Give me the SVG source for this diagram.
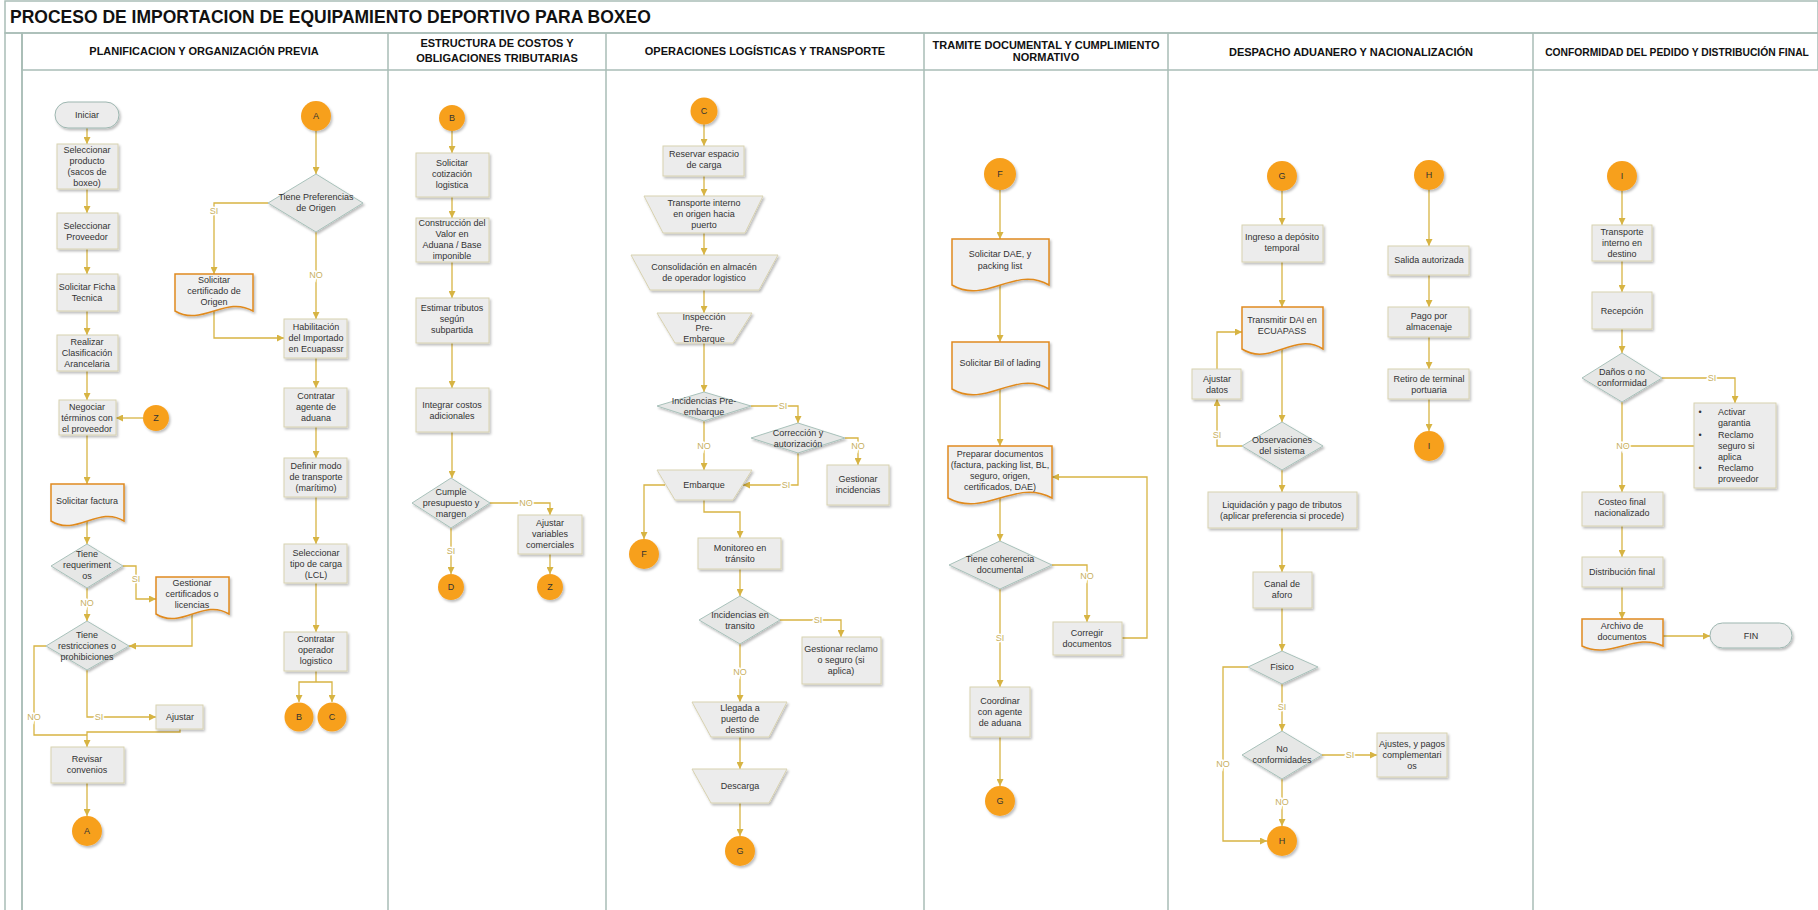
<svg xmlns="http://www.w3.org/2000/svg" width="1818" height="910" viewBox="0 0 1818 910">
<defs>
<style>
.p{fill:#ececec;stroke:#d8d2b0;stroke-width:1;filter:url(#sh)}
.d{fill:#f0f0f0;stroke:#e08a1f;stroke-width:1.5;filter:url(#sh)}
.dm{fill:#e6e7e6;stroke:#a8c1ba;stroke-width:1;filter:url(#sh)}
.c{fill:#f7a01f;filter:url(#sh)}
.t{fill:#ececec;stroke:#9db6b0;stroke-width:1;filter:url(#sh)}
text{font-family:"Liberation Sans",Arial,sans-serif;font-size:9px;fill:#333;text-anchor:middle}
.lb{fill:#c8b063;stroke:#fff;stroke-width:3;paint-order:stroke}
.hd{font-weight:bold;font-size:11px;fill:#111}
.ttl{font-weight:bold;font-size:17.5px;fill:#111;text-anchor:start}
.cn path{fill:none;stroke:#d7b443;stroke-width:1.3}
.cn .a{marker-end:url(#ar)}
.ln{stroke:#a9bdb7;stroke-width:1.5;fill:none}
</style>
<marker id="ar" viewBox="0 0 10 10" refX="10" refY="5" markerWidth="7" markerHeight="7" markerUnits="userSpaceOnUse" orient="auto"><path d="M0,0 L10,5 L0,10 z" fill="#d7b443"/></marker>
<filter id="sh" x="-20%" y="-20%" width="140%" height="140%"><feDropShadow dx="1.5" dy="2" stdDeviation="1" flood-color="#000" flood-opacity="0.25"/></filter>
</defs>
<rect x="0" y="0" width="1818" height="910" fill="#fff"/>
<g id="frame">
<rect x="5" y="1" width="1813" height="32" fill="#eeeeee" class="ln"/>
<rect x="5" y="33" width="17" height="880" fill="#ebebeb" class="ln"/>
<rect x="22" y="33" width="1796" height="37" fill="#ececec" class="ln"/>
<path class="ln" d="M22,33V910 M388,33V910 M606,33V910 M924,33V910 M1168,33V910 M1533,33V910"/>
<text class="ttl" x="10" y="23">PROCESO DE IMPORTACION DE EQUIPAMIENTO DEPORTIVO PARA BOXEO</text>
<text class="hd" x="204" y="55">PLANIFICACION Y ORGANIZACIÓN PREVIA</text>
<text class="hd" x="497" y="47">ESTRUCTURA DE COSTOS Y</text>
<text class="hd" x="497" y="62">OBLIGACIONES TRIBUTARIAS</text>
<text class="hd" x="765" y="55">OPERACIONES LOGÍSTICAS Y TRANSPORTE</text>
<text class="hd" x="1046" y="49">TRAMITE DOCUMENTAL Y CUMPLIMIENTO</text>
<text class="hd" x="1046" y="61">NORMATIVO</text>
<text class="hd" x="1351" y="56">DESPACHO ADUANERO Y NACIONALIZACIÓN</text>
<text class="hd" x="1677" y="56" style="font-size:10.3px">CONFORMIDAD DEL PEDIDO Y DISTRIBUCIÓN FINAL</text>
</g>

<g class="cn" id="connectors">
<path class="a" d="M87,128V144"/>
<path class="a" d="M87,189V213"/>
<path class="a" d="M87,249V274"/>
<path class="a" d="M87,311V335"/>
<path class="a" d="M87,371V400"/>
<path class="a" d="M143,418H116"/>
<path class="a" d="M87,435V484"/>
<path class="a" d="M87,521V544"/>
<path class="a" d="M123,566H136V599H156"/>
<path class="a" d="M87,588V621"/>
<path class="a" d="M192,614V646H129"/>
<path d="M46,646H34V735H87"/>
<path class="a" d="M180,729V732H87V747"/>
<path class="a" d="M87,670V717H156"/>
<path class="a" d="M87,783V816"/>
<path class="a" d="M316,131V174"/>
<path class="a" d="M268,203H214V274"/>
<path class="a" d="M214,311V338H284"/>
<path class="a" d="M316,232V319"/>
<path class="a" d="M316,358V388"/>
<path class="a" d="M316,427V458"/>
<path class="a" d="M316,497V544"/>
<path class="a" d="M316,583V632"/>
<path d="M316,671V682"/>
<path class="a" d="M316,682H299V702"/>
<path class="a" d="M316,682H332V702"/>
<path class="a" d="M452,131V153"/>
<path class="a" d="M452,197V218"/>
<path class="a" d="M452,262V298"/>
<path class="a" d="M452,343V388"/>
<path class="a" d="M452,432V478"/>
<path class="a" d="M490,503H550V515"/>
<path class="a" d="M550,554V574"/>
<path class="a" d="M451,528V574"/>
<path class="a" d="M704,124V146"/>
<path class="a" d="M704,176V196"/>
<path class="a" d="M704,233V255"/>
<path class="a" d="M704,290V313"/>
<path class="a" d="M704,343V392"/>
<path class="a" d="M751,406H798V423"/>
<path class="a" d="M845,438H858V465"/>
<path class="a" d="M798,453V485H743"/>
<path class="a" d="M704,421V470"/>
<path class="a" d="M665,485H644V539"/>
<path class="a" d="M704,500V512H740V538"/>
<path class="a" d="M740,569V596"/>
<path class="a" d="M780,620H841V637"/>
<path class="a" d="M740,644V702"/>
<path class="a" d="M740,737V769"/>
<path class="a" d="M740,803V836"/>
<path class="a" d="M1000,190V239"/>
<path class="a" d="M1000,285V342"/>
<path class="a" d="M1000,389V446"/>
<path class="a" d="M1000,498V541"/>
<path class="a" d="M1052,565H1087V622"/>
<path class="a" d="M1122,638H1147V477H1052"/>
<path class="a" d="M1000,589V687"/>
<path class="a" d="M1000,737V786"/>
<path class="a" d="M1282,191V225"/>
<path class="a" d="M1282,262V307"/>
<path class="a" d="M1282,349V422"/>
<path class="a" d="M1242,446H1217V399"/>
<path class="a" d="M1217,369V332H1242"/>
<path class="a" d="M1282,470V492"/>
<path class="a" d="M1282,528V572"/>
<path class="a" d="M1282,608V651"/>
<path class="a" d="M1282,684V731"/>
<path class="a" d="M1322,755H1377"/>
<path class="a" d="M1282,779V826"/>
<path class="a" d="M1248,667H1223V841H1267"/>
<path class="a" d="M1429,190V246"/>
<path class="a" d="M1429,275V307"/>
<path class="a" d="M1429,337V369"/>
<path class="a" d="M1429,399V431"/>
<path class="a" d="M1622,191V225"/>
<path class="a" d="M1622,261V292"/>
<path class="a" d="M1622,329V353"/>
<path class="a" d="M1662,378H1735V403"/>
<path class="a" d="M1622,402V492"/>
<path d="M1694,446H1622"/>
<path class="a" d="M1622,526V557"/>
<path class="a" d="M1622,587V619"/>
<path class="a" d="M1663,636H1710"/>
<text class="lb" x="136" y="582">SI</text>
<text class="lb" x="87" y="606">NO</text>
<text class="lb" x="34" y="720">NO</text>
<text class="lb" x="99" y="720">SI</text>
<text class="lb" x="214" y="214">SI</text>
<text class="lb" x="316" y="278">NO</text>
<text class="lb" x="526" y="506">NO</text>
<text class="lb" x="451" y="554">SI</text>
<text class="lb" x="783" y="409">SI</text>
<text class="lb" x="858" y="449">NO</text>
<text class="lb" x="786" y="488">SI</text>
<text class="lb" x="704" y="449">NO</text>
<text class="lb" x="818" y="623">SI</text>
<text class="lb" x="740" y="675">NO</text>
<text class="lb" x="1087" y="579">NO</text>
<text class="lb" x="1000" y="641">SI</text>
<text class="lb" x="1217" y="438">SI</text>
<text class="lb" x="1282" y="710">SI</text>
<text class="lb" x="1350" y="758">SI</text>
<text class="lb" x="1282" y="805">NO</text>
<text class="lb" x="1223" y="767">NO</text>
<text class="lb" x="1712" y="381">SI</text>
<text class="lb" x="1623" y="449">NO</text>
</g>

<!-- Lane 1 -->
<g id="n_iniciar"><rect class="t" x="55" y="102" width="64" height="26" rx="13"/><text x="87" y="118">Iniciar</text></g>
<g id="n_selprod"><rect class="p" x="57" y="144" width="61" height="45"/><text x="87" y="153">Seleccionar</text><text x="87" y="164">producto</text><text x="87" y="175">(sacos de</text><text x="87" y="186">boxeo)</text></g>
<g id="n_selprov"><rect class="p" x="57" y="213" width="61" height="36"/><text x="87" y="229">Seleccionar</text><text x="87" y="240">Proveedor</text></g>
<g id="n_ficha"><rect class="p" x="57" y="274" width="61" height="37"/><text x="87" y="290">Solicitar Ficha</text><text x="87" y="301">Tecnica</text></g>
<g id="n_clasif"><rect class="p" x="57" y="335" width="61" height="36"/><text x="87" y="345">Realizar</text><text x="87" y="356">Clasificación</text><text x="87" y="367">Arancelaria</text></g>
<g id="n_negociar"><rect class="p" x="59" y="400" width="57" height="35"/><text x="87" y="410">Negociar</text><text x="87" y="421">términos con</text><text x="87" y="432">el proveedor</text></g>
<g id="n_z1"><circle class="c" cx="156" cy="418" r="13"/><text x="156" y="421">Z</text></g>
<g id="n_factura"><path class="d" d="M51,484H124V521C98.5,505 76.6,537 51,521Z"/><text x="87" y="504">Solicitar factura</text></g>
<g id="n_req"><polygon class="dm" points="87,544 123,566 87,588 51,566"/><text x="87" y="557">Tiene</text><text x="87" y="568">requeriment</text><text x="87" y="579">os</text></g>
<g id="n_gestcert"><path class="d" d="M156,577H229V614C203.5,598 181.6,630 156,614Z"/><text x="192" y="586">Gestionar</text><text x="192" y="597">certificados o</text><text x="192" y="608">licencias</text></g>
<g id="n_restr"><polygon class="dm" points="87,621 129,646 87,670 46,646"/><text x="87" y="638">Tiene</text><text x="87" y="649">restricciones o</text><text x="87" y="660">prohibiciones</text></g>
<g id="n_ajustar"><rect class="p" x="156" y="705" width="47" height="24"/><text x="180" y="720">Ajustar</text></g>
<g id="n_revisar"><rect class="p" x="51" y="747" width="73" height="36"/><text x="87" y="762">Revisar</text><text x="87" y="773">convenios</text></g>
<g id="n_a2"><circle class="c" cx="87" cy="831" r="15"/><text x="87" y="834">A</text></g>
<g id="n_a1"><circle class="c" cx="316" cy="116" r="15"/><text x="316" y="119">A</text></g>
<g id="n_pref"><polygon class="dm" points="316,174 363,203 316,232 268,203"/><text x="316" y="200">Tiene Preferencias</text><text x="316" y="211">de Origen</text></g>
<g id="n_certorig"><path class="d" d="M175,274H253V311C225.7,295 202.3,327 175,311Z"/><text x="214" y="283">Solicitar</text><text x="214" y="294">certificado de</text><text x="214" y="305">Origen</text></g>
<g id="n_habil"><rect class="p" x="284" y="319" width="63" height="39"/><text x="316" y="330">Habilitación</text><text x="316" y="341">del Importado</text><text x="316" y="352">en Ecuapassr</text></g>
<g id="n_agente"><rect class="p" x="284" y="388" width="63" height="39"/><text x="316" y="399">Contratar</text><text x="316" y="410">agente de</text><text x="316" y="421">aduana</text></g>
<g id="n_modo"><rect class="p" x="284" y="458" width="63" height="39"/><text x="316" y="469">Definir modo</text><text x="316" y="480">de transporte</text><text x="316" y="491">(marítimo)</text></g>
<g id="n_tipo"><rect class="p" x="284" y="544" width="63" height="39"/><text x="316" y="556">Seleccionar</text><text x="316" y="567">tipo de carga</text><text x="316" y="578">(LCL)</text></g>
<g id="n_operador"><rect class="p" x="284" y="632" width="63" height="39"/><text x="316" y="642">Contratar</text><text x="316" y="653">operador</text><text x="316" y="664">logistico</text></g>
<g id="n_b1"><circle class="c" cx="299" cy="717" r="14.5"/><text x="299" y="720">B</text></g>
<g id="n_c1"><circle class="c" cx="332" cy="717" r="14.5"/><text x="332" y="720">C</text></g>

<!-- Lane 2 -->
<g id="n_b2"><circle class="c" cx="452" cy="118" r="13"/><text x="452" y="121">B</text></g>
<g id="n_cotiz"><rect class="p" x="416" y="153" width="73" height="44"/><text x="452" y="166">Solicitar</text><text x="452" y="177">cotización</text><text x="452" y="188">logistica</text></g>
<g id="n_valor"><rect class="p" x="416" y="218" width="73" height="44"/><text x="452" y="226">Construcción del</text><text x="452" y="237">Valor en</text><text x="452" y="248">Aduana / Base</text><text x="452" y="259">imponible</text></g>
<g id="n_tributos"><rect class="p" x="416" y="298" width="73" height="45"/><text x="452" y="311">Estimar tributos</text><text x="452" y="322">según</text><text x="452" y="333">subpartida</text></g>
<g id="n_integrar"><rect class="p" x="416" y="388" width="73" height="44"/><text x="452" y="408">Integrar costos</text><text x="452" y="419">adicionales</text></g>
<g id="n_cumple"><polygon class="dm" points="451,478 490,503 451,528 412,503"/><text x="451" y="495">Cumple</text><text x="451" y="506">presupuesto y</text><text x="451" y="517">margen</text></g>
<g id="n_ajvar"><rect class="p" x="518" y="515" width="64" height="39"/><text x="550" y="526">Ajustar</text><text x="550" y="537">variables</text><text x="550" y="548">comerciales</text></g>
<g id="n_d"><circle class="c" cx="451" cy="587" r="13"/><text x="451" y="590">D</text></g>
<g id="n_z2"><circle class="c" cx="550" cy="587" r="13"/><text x="550" y="590">Z</text></g>

<!-- Lane 3 -->
<g id="n_c2"><circle class="c" cx="704" cy="111" r="13.5"/><text x="704" y="114">C</text></g>
<g id="n_reservar"><rect class="p" x="663" y="146" width="81" height="30"/><text x="704" y="157">Reservar espacio</text><text x="704" y="168">de carga</text></g>
<g id="n_transp"><polygon class="p" points="644,196 763,196 745,233 663,233"/><text x="704" y="206">Transporte interno</text><text x="704" y="217">en origen hacia</text><text x="704" y="228">puerto</text></g>
<g id="n_consol"><polygon class="p" points="631,255 778,255 759,290 650,290"/><text x="704" y="270">Consolidación en almacén</text><text x="704" y="281">de operador logistico</text></g>
<g id="n_insp"><polygon class="p" points="657,313 752,313 733,343 675,343"/><text x="704" y="320">Inspección</text><text x="704" y="331">Pre-</text><text x="704" y="342">Embarque</text></g>
<g id="n_incpre"><polygon class="dm" points="704,392 751,406 704,421 657,406"/><text x="704" y="404">Incidencias Pre-</text><text x="704" y="415">embarque</text></g>
<g id="n_correc"><polygon class="dm" points="798,423 845,438 798,453 751,438"/><text x="798" y="436">Corrección y</text><text x="798" y="447">autorización</text></g>
<g id="n_gestinc"><rect class="p" x="827" y="465" width="62" height="40"/><text x="858" y="482">Gestionar</text><text x="858" y="493">incidencias</text></g>
<g id="n_embarque"><polygon class="p" points="657,470 752,470 733,500 675,500"/><text x="704" y="488">Embarque</text></g>
<g id="n_f1"><circle class="c" cx="644" cy="554" r="15"/><text x="644" y="557">F</text></g>
<g id="n_monit"><rect class="p" x="698" y="538" width="83" height="31"/><text x="740" y="551">Monitoreo en</text><text x="740" y="562">tránsito</text></g>
<g id="n_inctr"><polygon class="dm" points="740,596 780,620 740,644 699,620"/><text x="740" y="618">Incidencias en</text><text x="740" y="629">transito</text></g>
<g id="n_reclamo"><rect class="p" x="802" y="637" width="79" height="47"/><text x="841" y="652">Gestionar reclamo</text><text x="841" y="663">o seguro (si</text><text x="841" y="674">aplica)</text></g>
<g id="n_llegada"><polygon class="p" points="692,702 787,702 769,737 711,737"/><text x="740" y="711">Llegada a</text><text x="740" y="722">puerto de</text><text x="740" y="733">destino</text></g>
<g id="n_descarga"><polygon class="p" points="692,769 787,769 769,803 711,803"/><text x="740" y="789">Descarga</text></g>
<g id="n_g1"><circle class="c" cx="740" cy="851" r="15"/><text x="740" y="854">G</text></g>

<!-- Lane 4 -->
<g id="n_f2"><circle class="c" cx="1000" cy="174" r="16"/><text x="1000" y="177">F</text></g>
<g id="n_dae"><path class="d" d="M952,239H1049V285C1015,265 986,305 952,285Z"/><text x="1000" y="257">Solicitar DAE, y</text><text x="1000" y="269">packing list</text></g>
<g id="n_bl"><path class="d" d="M952,342H1049V389C1015,369 986,409 952,389Z"/><text x="1000" y="366">Solicitar Bil of lading</text></g>
<g id="n_preparar"><path class="d" d="M948,446H1052V498C1015.6,478 984.4,518 948,498Z"/><text x="1000" y="457">Preparar documentos</text><text x="1000" y="468">(factura, packing list, BL,</text><text x="1000" y="479">seguro, origen,</text><text x="1000" y="490">certificados, DAE)</text></g>
<g id="n_coher"><polygon class="dm" points="1000,541 1052,565 1000,589 949,565"/><text x="1000" y="562">Tiene coherencia</text><text x="1000" y="573">documental</text></g>
<g id="n_corregir"><rect class="p" x="1053" y="622" width="69" height="33"/><text x="1087" y="636">Corregir</text><text x="1087" y="647">documentos</text></g>
<g id="n_coord"><rect class="p" x="970" y="687" width="60" height="50"/><text x="1000" y="704">Coordinar</text><text x="1000" y="715">con agente</text><text x="1000" y="726">de aduana</text></g>
<g id="n_g2"><circle class="c" cx="1000" cy="801" r="15"/><text x="1000" y="804">G</text></g>

<!-- Lane 5 -->
<g id="n_g3"><circle class="c" cx="1282" cy="176" r="15"/><text x="1282" y="179">G</text></g>
<g id="n_ingreso"><rect class="p" x="1242" y="225" width="81" height="37"/><text x="1282" y="240">Ingreso a depósito</text><text x="1282" y="251">temporal</text></g>
<g id="n_dai"><path class="d" d="M1242,307H1323V349C1294.7,331 1270.4,367 1242,349Z"/><text x="1282" y="323">Transmitir DAI en</text><text x="1282" y="334">ECUAPASS</text></g>
<g id="n_ajdatos"><rect class="p" x="1192" y="369" width="49" height="30"/><text x="1217" y="382">Ajustar</text><text x="1217" y="393">datos</text></g>
<g id="n_obs"><polygon class="dm" points="1282,422 1323,446 1282,470 1242,446"/><text x="1282" y="443">Observaciones</text><text x="1282" y="454">del sistema</text></g>
<g id="n_liq"><rect class="p" x="1208" y="492" width="149" height="36"/><text x="1282" y="508">Liquidación y pago de tributos</text><text x="1282" y="519">(aplicar preferencia si procede)</text></g>
<g id="n_canal"><rect class="p" x="1253" y="572" width="59" height="36"/><text x="1282" y="587">Canal de</text><text x="1282" y="598">aforo</text></g>
<g id="n_fisico"><polygon class="dm" points="1282,651 1318,667 1282,684 1248,667"/><text x="1282" y="670">Fisico</text></g>
<g id="n_noconf"><polygon class="dm" points="1282,731 1322,755 1282,779 1242,755"/><text x="1282" y="752">No</text><text x="1282" y="763">conformidades</text></g>
<g id="n_ajpagos"><rect class="p" x="1377" y="733" width="70" height="44"/><text x="1412" y="747">Ajustes, y pagos</text><text x="1412" y="758">complementari</text><text x="1412" y="769">os</text></g>
<g id="n_h1"><circle class="c" cx="1282" cy="841" r="15"/><text x="1282" y="844">H</text></g>
<g id="n_h2"><circle class="c" cx="1429" cy="175" r="15"/><text x="1429" y="178">H</text></g>
<g id="n_salida"><rect class="p" x="1388" y="246" width="81" height="29"/><text x="1429" y="263">Salida autorizada</text></g>
<g id="n_pago"><rect class="p" x="1388" y="307" width="81" height="30"/><text x="1429" y="319">Pago por</text><text x="1429" y="330">almacenaje</text></g>
<g id="n_retiro"><rect class="p" x="1388" y="369" width="81" height="30"/><text x="1429" y="382">Retiro de terminal</text><text x="1429" y="393">portuaria</text></g>
<g id="n_i1"><circle class="c" cx="1429" cy="446" r="15"/><text x="1429" y="449">I</text></g>

<!-- Lane 6 -->
<g id="n_i2"><circle class="c" cx="1622" cy="176" r="15"/><text x="1622" y="179">I</text></g>
<g id="n_transdest"><rect class="p" x="1592" y="225" width="60" height="36"/><text x="1622" y="235">Transporte</text><text x="1622" y="246">interno en</text><text x="1622" y="257">destino</text></g>
<g id="n_recep"><rect class="p" x="1592" y="292" width="60" height="37"/><text x="1622" y="314">Recepción</text></g>
<g id="n_danos"><polygon class="dm" points="1622,353 1662,378 1622,402 1582,378"/><text x="1622" y="375">Daños o no</text><text x="1622" y="386">conformidad</text></g>
<g id="n_garantia"><rect class="p" x="1694" y="403" width="82" height="85"/>
<text x="1700" y="415">•</text><text x="1700" y="438">•</text><text x="1700" y="471">•</text>
<text x="1718" y="415" style="text-anchor:start">Activar</text><text x="1718" y="426" style="text-anchor:start">garantia</text><text x="1718" y="438" style="text-anchor:start">Reclamo</text><text x="1718" y="449" style="text-anchor:start">seguro si</text><text x="1718" y="460" style="text-anchor:start">aplica</text><text x="1718" y="471" style="text-anchor:start">Reclamo</text><text x="1718" y="482" style="text-anchor:start">proveedor</text></g>
<g id="n_costeo"><rect class="p" x="1582" y="492" width="81" height="34"/><text x="1622" y="505">Costeo final</text><text x="1622" y="516">nacionalizado</text></g>
<g id="n_distrib"><rect class="p" x="1582" y="557" width="81" height="30"/><text x="1622" y="575">Distribución final</text></g>
<g id="n_archivo"><path class="d" d="M1582,619H1663V646C1634.7,632 1610.4,660 1582,646Z"/><text x="1622" y="629">Archivo de</text><text x="1622" y="640">documentos</text></g>
<g id="n_fin"><rect class="t" x="1710" y="623" width="82" height="25" rx="12.5"/><text x="1751" y="639">FIN</text></g>
</svg>
